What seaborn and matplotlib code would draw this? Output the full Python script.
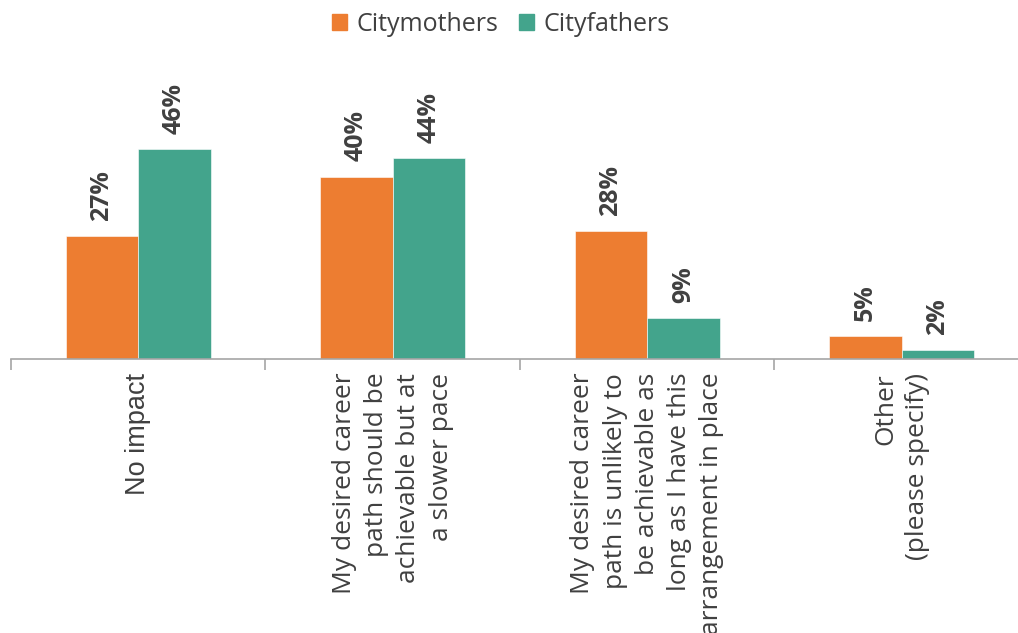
import matplotlib
matplotlib.use("Agg")
import matplotlib.pyplot as plt
import seaborn as sns
import pandas as pd
from matplotlib.ticker import FixedLocator

categories = [
    "No impact",
    "My desired career\npath should be\nachievable but at\na slower pace",
    "My desired career\npath is unlikely to\nbe achievable as\nlong as I have this\narrangement in place",
    "Other\n(please specify)",
]
series_names = ["Citymothers", "Cityfathers"]
citymothers = [27, 40, 28, 5]
cityfathers = [46, 44, 9, 2]
colors = ["#ED7D31", "#43A48C"]

df = pd.DataFrame({
    "category": categories * 2,
    "group": [series_names[0]] * 4 + [series_names[1]] * 4,
    "value": citymothers + cityfathers,
})

sns.set_theme(style="white")
plt.rcParams["font.family"] = ["Open Sans", "DejaVu Sans"]
text_color = "#404040"

fig = plt.figure(figsize=(10.18, 6.33), dpi=100)
ax = fig.add_axes([0.0108, 0.4329, 1.0, 0.3602])

sns.barplot(data=df, x="category", y="value", hue="group",
            palette=colors, width=0.57, ax=ax, legend=False,
            edgecolor="white", linewidth=0.4, saturation=1)

for cont, vals in zip(ax.containers, [citymothers, cityfathers]):
    ax.bar_label(cont, labels=[f"{v}%" for v in vals], padding=11,
                 rotation=90, fontsize=18, fontweight="bold", color=text_color)

ax.set_ylim(0, 50)
ax.set_xlim(-0.5, 3.5)
ax.set_xlabel("")
ax.set_ylabel("")
ax.set_yticks([])
for s in ["top", "right", "left"]:
    ax.spines[s].set_visible(False)
ax.spines["bottom"].set_color("#A6A6A6")
ax.spines["bottom"].set_linewidth(1.2)

# category separators as minor ticks
ax.xaxis.set_minor_locator(FixedLocator([-0.5, 0.5, 1.5, 2.5, 3.5]))
ax.tick_params(axis="x", which="minor", length=8, width=1.2, color="#A6A6A6",
               direction="out", bottom=True)
ax.tick_params(axis="x", which="major", length=0, pad=10)
ax.set_xticks(range(4))
ax.set_xticklabels(categories, rotation=90, ha="center", va="top",
                   fontsize=19, color=text_color, linespacing=1.38,
                   multialignment="right")
first = ax.get_xticklabels()[0]
first.set_fontfamily(["Liberation Sans", "DejaVu Sans"])
first.set_fontsize(19.5)

handles = [plt.Rectangle((0, 0), 1, 1, color=c) for c in colors]
fig.legend(handles, series_names, loc="center", bbox_to_anchor=(0.492, 0.962),
           ncol=2, frameon=False, fontsize=18, handlelength=0.6,
           handleheight=0.6, handletextpad=0.4, columnspacing=0.8,
           labelcolor=text_color)

fig.savefig("out.png", dpi=100)
